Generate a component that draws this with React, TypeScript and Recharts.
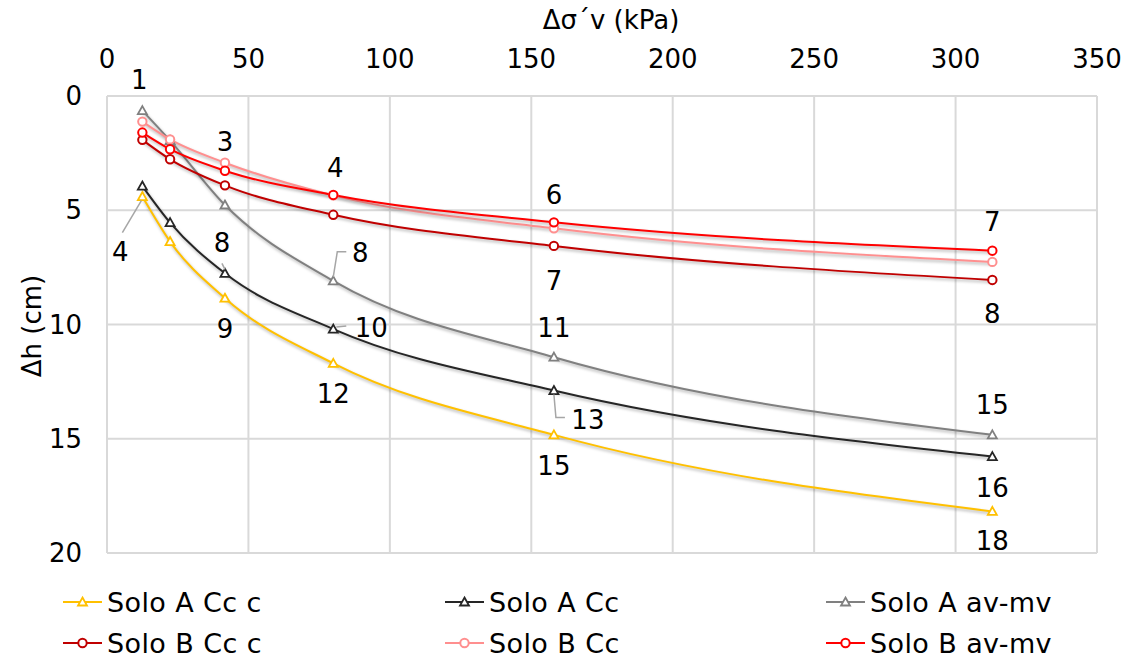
import React from 'react';
import { LineChart, Line, XAxis, YAxis, CartesianGrid, LabelList, Label } from 'recharts';

// Δσ'v (kPa) para cada ponto
const stress = [12.5, 22.3, 41.7, 80, 158, 313];

// Δh (cm) por série
const soloACcc = [4.4, 6.37, 8.85, 11.7, 14.83, 18.18];
const soloACc = [3.94, 5.54, 7.76, 10.2, 12.89, 15.78];
const soloAavmv = [0.64, 1.95, 4.77, 8.09, 11.43, 14.83];
const soloBCcc = [1.92, 2.77, 3.91, 5.2, 6.56, 8.05];
const soloBCc = [1.12, 1.9, 2.92, 4.35, 5.79, 7.26];
const soloBavmv = [1.6, 2.33, 3.27, 4.33, 5.53, 6.77];

const xTicks = [0, 50, 100, 150, 200, 250, 300, 350];
const yTicks = [0, 5, 10, 15, 20];

const FONT = '"DejaVu Sans", Verdana, sans-serif';

const series = [
  { key: 'soloACcc', name: 'Solo A Cc c', color: '#FFC000', marker: 'tri', values: soloACcc },
  { key: 'soloACc', name: 'Solo A Cc', color: '#262626', marker: 'tri', values: soloACc },
  { key: 'soloAavmv', name: 'Solo A av-mv', color: '#808080', marker: 'tri', values: soloAavmv },
  { key: 'soloBCcc', name: 'Solo B Cc c', color: '#C00000', marker: 'circ', values: soloBCcc },
  { key: 'soloBCc', name: 'Solo B Cc', color: '#FF8F8F', marker: 'circ', values: soloBCc },
  { key: 'soloBavmv', name: 'Solo B av-mv', color: '#FF0000', marker: 'circ', values: soloBavmv },
];

const data = stress.map((x, i) => {
  const row: any = { x };
  series.forEach(s => { row[s.key] = s.values[i]; });
  return row;
});

// posição dos rótulos de dados (deslocamento a partir do ponto), null = sem rótulo
type Place = { dx: number; dy: number; leader?: number[][] } | null;
const labelPlaces: Record<string, Place[]> = {
  soloACcc: [{ dx: -22, dy: 55, leader: [[-20, 36], [-1, 4]] }, null, { dx: 0, dy: 31 }, { dx: 0, dy: 31 }, { dx: 0, dy: 31 }, { dx: 0, dy: 30 }],
  soloACc: [null, null, { dx: -3, dy: -30, leader: [[-3, -10], [0, -4]] }, { dx: 38, dy: -1, leader: [[13, -3], [3, -2]] }, { dx: 34, dy: 29, leader: [[11, 27], [2, 27], [0, 4]] }, { dx: 0, dy: 31 }],
  soloAavmv: [{ dx: -3, dy: -31 }, null, null, { dx: 27, dy: -28, leader: [[13, -29], [4, -29], [0, -4]] }, { dx: 0, dy: -29 }, { dx: 0, dy: -30 }],
  soloBCcc: [null, null, null, null, { dx: 0, dy: 35 }, { dx: 0, dy: 34 }],
  soloBCc: [null, null, { dx: 0, dy: -21 }, null, null, null],
  soloBavmv: [null, null, null, { dx: 2, dy: -27 }, { dx: 0, dy: -27 }, { dx: 0, dy: -29 }],
};

const Marker = ({ cx, cy, color, kind }: any) => {
  if (kind === 'tri') {
    return (
      <path
        d={`M${cx},${cy - 4.5}L${cx + 4.5},${cy + 3.5}L${cx - 4.5},${cy + 3.5}Z`}
        fill="#fff"
        stroke={color}
        strokeWidth={1.8}
      />
    );
  }
  return <circle cx={cx} cy={cy} r={4.2} fill="#fff" stroke={color} strokeWidth={2} />;
};

const makeLabel = (key: string) => (props: any) => {
  const { index, value } = props;
  const px = props.viewBox?.x ?? props.x;
  const py = props.viewBox?.y ?? props.y;
  const place = labelPlaces[key][index];
  if (!place || px == null || py == null) return null;
  return (
    <g key={`${key}-lbl-${index}`}>
      {place.leader && (
        <polyline
          points={place.leader.map(p => `${px + p[0]},${py + p[1]}`).join(' ')}
          fill="none"
          stroke="#A6A6A6"
          strokeWidth={1.5}
        />
      )}
      <text
        x={px + place.dx}
        y={py + place.dy}
        textAnchor="middle"
        dominantBaseline="central"
        fontSize={26}
        fontFamily={FONT}
        fill="#000"
      >
        {Math.round(value)}
      </text>
    </g>
  );
};

const legendCols = [63, 445, 826];
const legendRows = [602, 643];

export default function App() {
  return (
    <div style={{ position: 'absolute', left: 0, top: 0, width: 1125, height: 660, background: '#fff', fontFamily: FONT }}>
      <style>{`.recharts-line { filter: drop-shadow(1.5px 2px 1.5px rgba(0,0,0,0.3)); }`}</style>
      <LineChart width={1125} height={660} data={data} margin={{ top: 0, right: 28, bottom: 107, left: 0 }}>
        <CartesianGrid stroke="#D9D9D9" strokeWidth={2} />
        <XAxis
          type="number"
          dataKey="x"
          orientation="top"
          domain={[0, 350]}
          ticks={xTicks}
          height={96}
          axisLine={false}
          tickLine={false}
          tickMargin={22}
          tick={{ fontSize: 26, fill: '#000', fontFamily: FONT }}
        >
          <Label
            content={() => (
              <text x={611} y={20} textAnchor="middle" dominantBaseline="central" fontSize={26} fontFamily={FONT} fill="#000">
                Δσ´v (kPa)
              </text>
            )}
          />
        </XAxis>
        <YAxis
          type="number"
          reversed
          domain={[0, 20]}
          ticks={yTicks}
          width={107}
          axisLine={false}
          tickLine={false}
          tickMargin={19}
          tick={{ fontSize: 26, fill: '#000', fontFamily: FONT }}
        >
          <Label
            content={() => (
              <text
                x={32}
                y={326}
                textAnchor="middle"
                dominantBaseline="central"
                fontSize={26}
                fontFamily={FONT}
                fill="#000"
                transform="rotate(-90 32 326)"
              >
                Δh (cm)
              </text>
            )}
          />
        </YAxis>
        {series.map(s => (
          <Line
            key={s.key}
            dataKey={s.key}
            name={s.name}
            type="monotone"
            stroke={s.color}
            strokeWidth={2}
            isAnimationActive={false}
            dot={(p: any) => <Marker key={`${s.key}-dot-${p.index}`} cx={p.cx} cy={p.cy} color={s.color} kind={s.marker} />}
            activeDot={false}
          >
            <LabelList dataKey={s.key} content={makeLabel(s.key)} />
          </Line>
        ))}
      </LineChart>
      {series.map((s, i) => {
        const left = legendCols[i % 3];
        const top = legendRows[Math.floor(i / 3)];
        return (
          <div key={s.key} style={{ position: 'absolute', left, top: top - 18, height: 36, display: 'flex', alignItems: 'center' }}>
            <svg width={40} height={20} style={{ overflow: 'visible' }}>
              <line x1={0} y1={10} x2={39} y2={10} stroke={s.color} strokeWidth={2} />
              <Marker cx={19.5} cy={10} color={s.color} kind={s.marker} />
            </svg>
            <span style={{ marginLeft: 4, fontSize: 27, color: '#000', whiteSpace: 'nowrap', letterSpacing: 0.4 }}>{s.name}</span>
          </div>
        );
      })}
    </div>
  );
}
